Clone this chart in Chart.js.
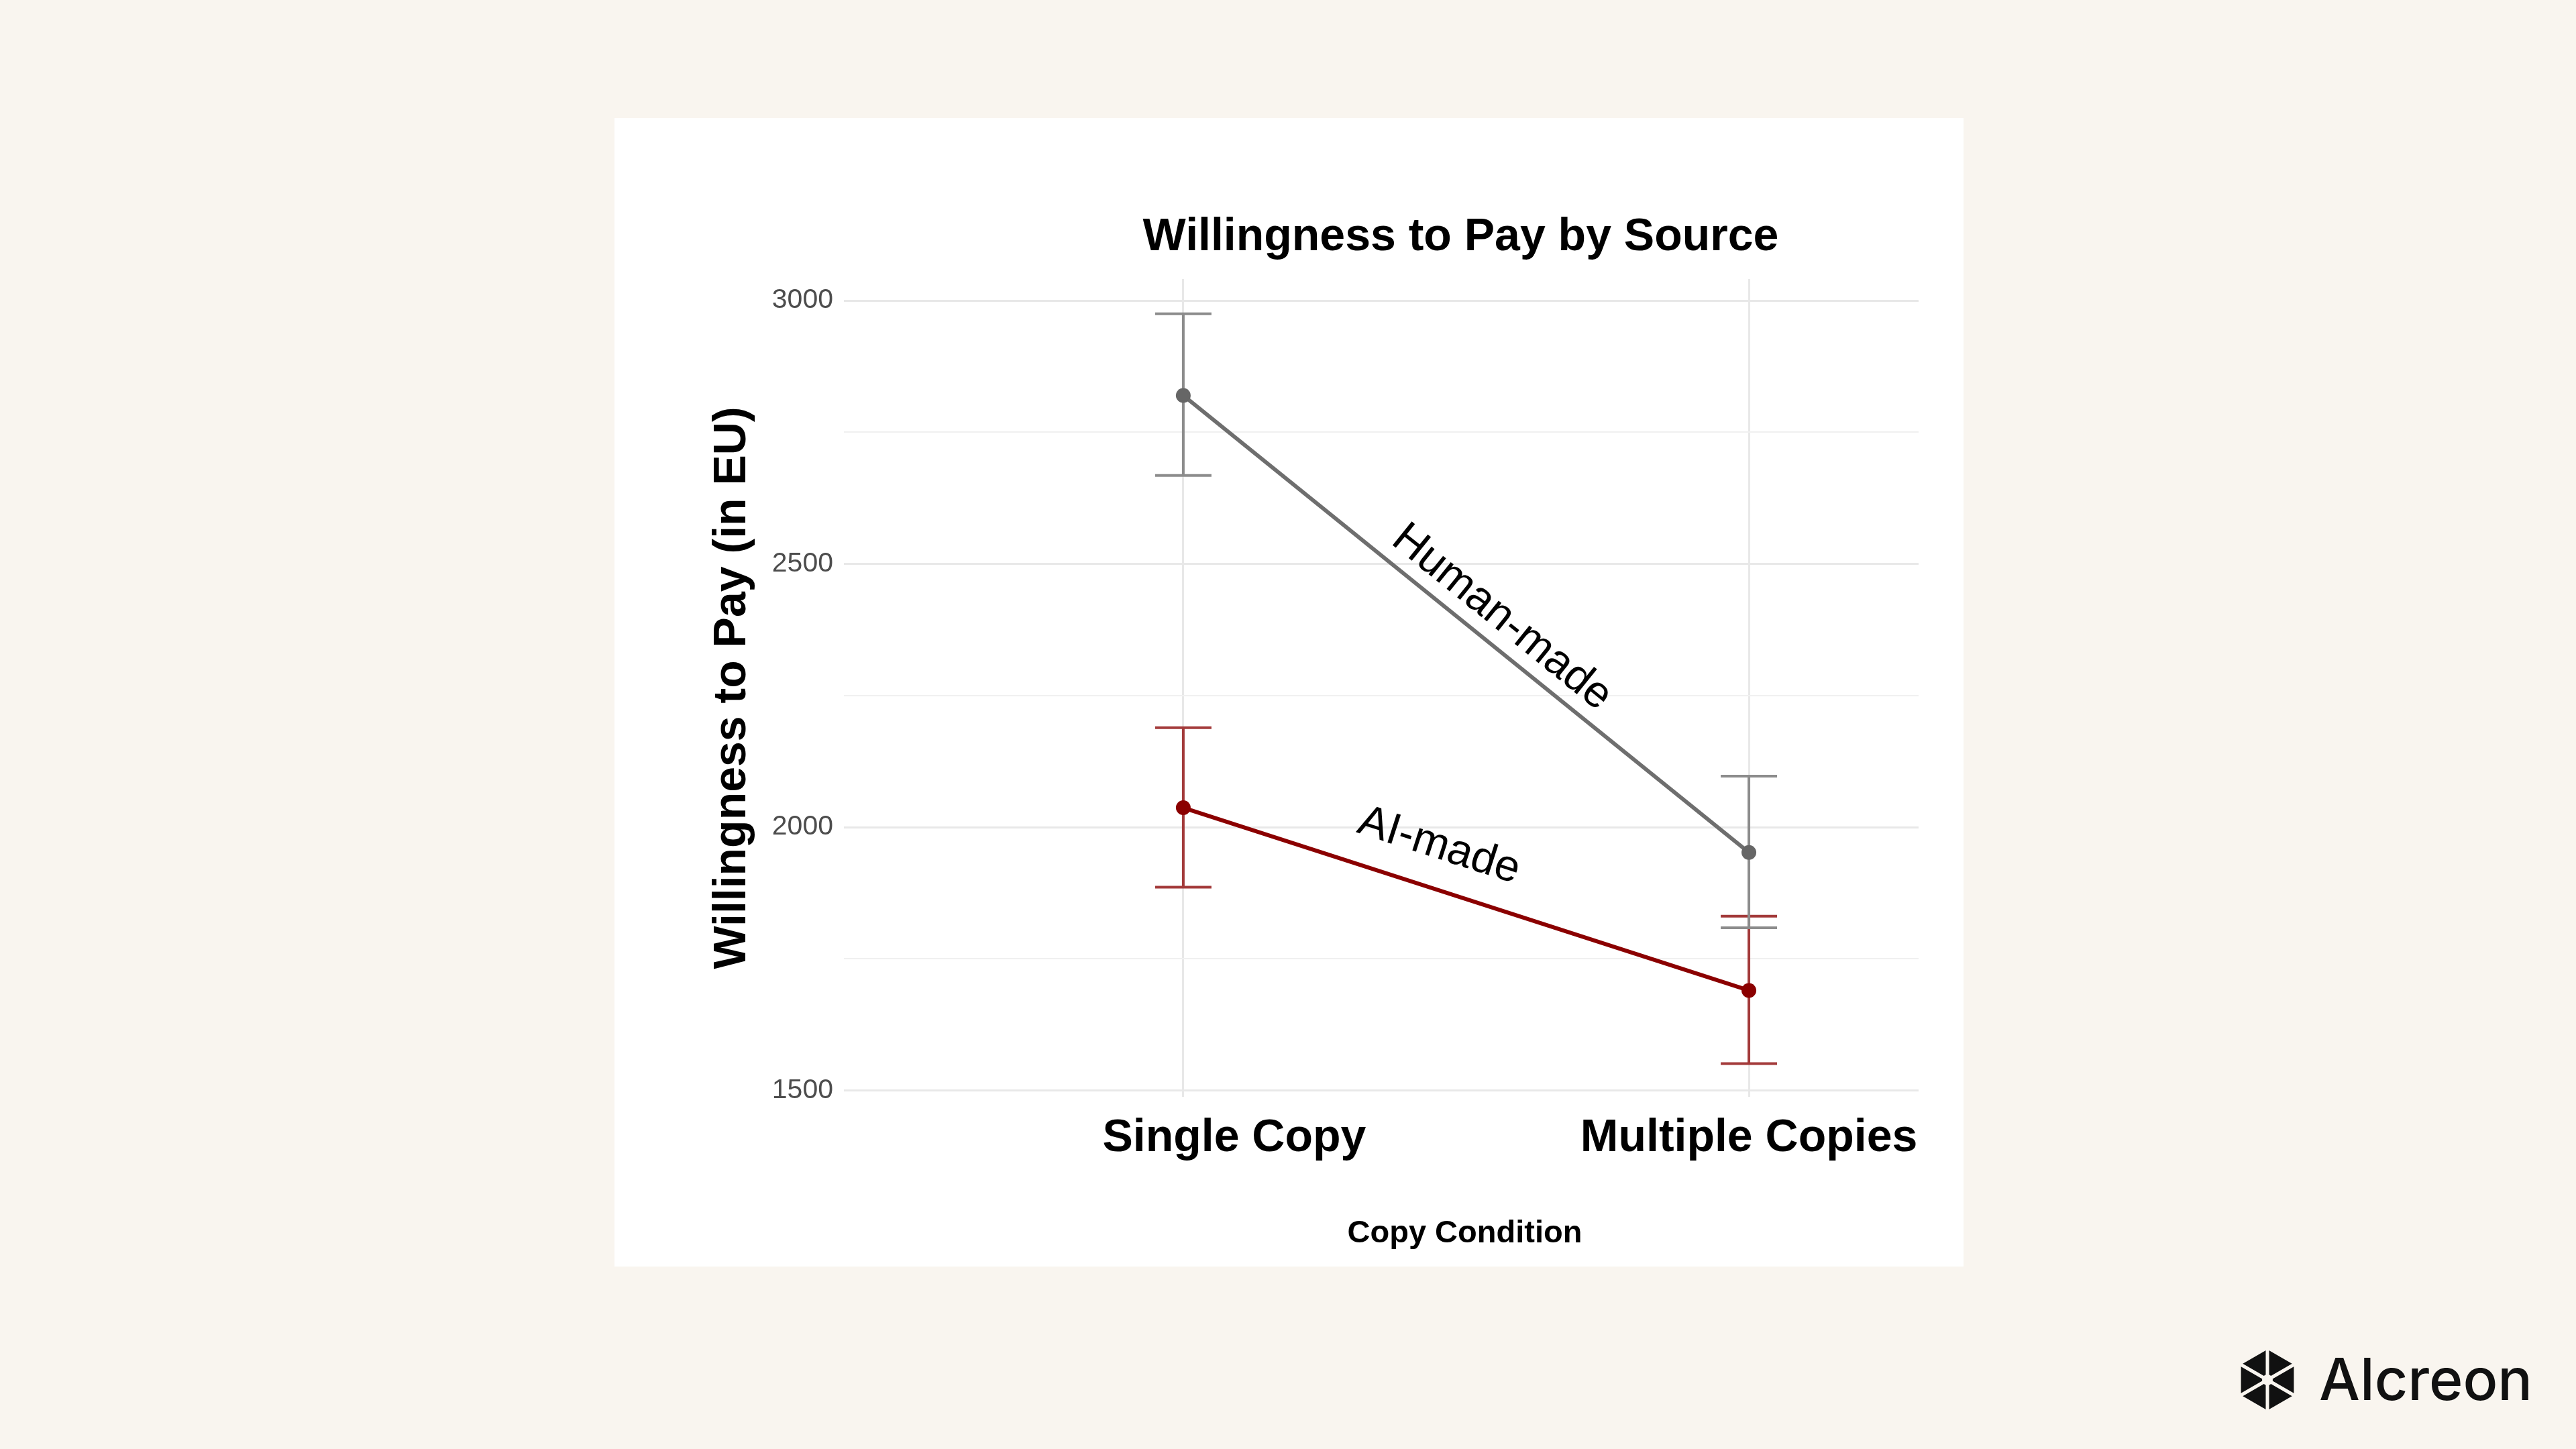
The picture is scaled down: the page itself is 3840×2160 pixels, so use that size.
<!DOCTYPE html>
<html>
<head>
<meta charset="utf-8">
<script src="https://cdn.jsdelivr.net/npm/chart.js@4.4.1/dist/chart.umd.min.js"></script>
<style>
  html, body { margin: 0; padding: 0; width: 3840px; height: 2160px; overflow: hidden; background: #f9f5ef; }
  #card { position: absolute; left: 916px; top: 176px; width: 2011px; height: 1712px; background: #ffffff; }
  #chart { position: absolute; left: 0; top: 0; }
  #logo { position: absolute; left: 3300px; top: 1980px; }
</style>
</head>
<body>
<div id="card"></div>
<canvas id="chart" width="3840" height="2160"></canvas>

<svg id="logo" width="540" height="180" viewBox="0 0 540 180">
  <g transform="translate(80 77)">
    <polygon points="0,-42 36.4,-21 36.4,21 0,42 -36.4,21 -36.4,-21" fill="#111" stroke="#111" stroke-width="6" stroke-linejoin="round"/>
    <g stroke="#f9f5ef" stroke-width="5" stroke-linecap="round">
      <line x1="0" y1="0" x2="0" y2="-52"/>
      <line x1="0" y1="0" x2="45" y2="-26"/>
      <line x1="0" y1="0" x2="45" y2="26"/>
      <line x1="0" y1="0" x2="0" y2="52"/>
      <line x1="0" y1="0" x2="-45" y2="26"/>
      <line x1="0" y1="0" x2="-45" y2="-26"/>
    </g>
    <circle cx="0" cy="0" r="8" fill="#f9f5ef"/>
  </g>
  <text x="157" y="107" font-family="Inter, 'Noto Sans', sans-serif" font-size="86" font-weight="500" fill="#111">Alcreon</text>
</svg>

<script>
// --- Data ---
const categories = ['Single Copy', 'Multiple Copies'];
const humanMean = [2820, 1952];
const humanLow = [2668, 1809];
const humanHigh = [2975, 2097];
const aiMean = [2037, 1690];
const aiLow = [1886, 1551];
const aiHigh = [2189, 1831];
const yTicks = [1500, 1750, 2000, 2250, 2500, 2750, 3000];

// --- Styles ---
const FONT = '"Liberation Sans", Arial, Helvetica, sans-serif';
const HUMAN_LINE = '#6e6e6e';
const HUMAN_BAR = '#8c8c8c';
const AI_LINE = '#8b0000';
const AI_BAR = '#a33a3a';
const GRID_MAJOR = '#e8e8e8';
const GRID_MINOR = '#f0f0f0';

Chart.defaults.font.family = FONT;

function toPoints(vals) {
  return vals.map((v, i) => ({ x: i, y: v }));
}

// error bars drawn under the lines
const errorBars = {
  id: 'errorBars',
  beforeDatasetsDraw(chart) {
    const { ctx, scales: { x, y } } = chart;
    const series = [
      { low: aiLow, high: aiHigh, color: AI_BAR },
      { low: humanLow, high: humanHigh, color: HUMAN_BAR }
    ];
    const cap = 42;
    ctx.save();
    series.forEach(s => {
      ctx.strokeStyle = s.color;
      ctx.lineWidth = 4;
      s.low.forEach((lo, i) => {
        const px = x.getPixelForValue(i);
        const yl = y.getPixelForValue(lo);
        const yh = y.getPixelForValue(s.high[i]);
        ctx.beginPath();
        ctx.moveTo(px, yl); ctx.lineTo(px, yh);
        ctx.moveTo(px - cap, yl); ctx.lineTo(px + cap, yl);
        ctx.moveTo(px - cap, yh); ctx.lineTo(px + cap, yh);
        ctx.stroke();
      });
    });
    ctx.restore();
  }
};

// title, category labels, x title and the in-line labels
const textLayer = {
  id: 'textLayer',
  afterDraw(chart) {
    const { ctx, chartArea, scales: { x, y } } = chart;
    const mid = x.getPixelForValue((categories.length - 1) / 2);
    ctx.save();
    ctx.fillStyle = '#000';
    ctx.textBaseline = 'alphabetic';
    ctx.textAlign = 'center';

    ctx.font = 'bold 68px ' + FONT;
    ctx.fillText('Willingness to Pay by Source', mid - 8, chartArea.top - 43);

    const labelShift = [76, 0];
    categories.forEach((c, i) => {
      ctx.fillText(c, x.getPixelForValue(i) + labelShift[i], chartArea.bottom + 81);
    });

    ctx.font = 'bold 47px ' + FONT;
    ctx.fillText('Copy Condition', mid - 2, chartArea.bottom + 217);

    const lineLabels = [
      { text: 'Human-made', vals: humanMean, at: [0.563, 2398], size: 66 },
      { text: 'AI-made', vals: aiMean, at: [0.452, 1964], size: 66 }
    ];
    ctx.textBaseline = 'middle';
    lineLabels.forEach(l => {
      const dx = x.getPixelForValue(1) - x.getPixelForValue(0);
      const dy = y.getPixelForValue(l.vals[1]) - y.getPixelForValue(l.vals[0]);
      ctx.save();
      ctx.translate(x.getPixelForValue(l.at[0]), y.getPixelForValue(l.at[1]));
      ctx.rotate(Math.atan2(dy, dx));
      ctx.font = l.size + 'px ' + FONT;
      ctx.fillText(l.text, 0, 0);
      ctx.restore();
    });
    ctx.restore();
  }
};

new Chart(document.getElementById('chart'), {
  type: 'line',
  data: {
    datasets: [
      {
        label: 'Human-made',
        data: toPoints(humanMean),
        borderColor: HUMAN_LINE,
        backgroundColor: HUMAN_LINE,
        borderWidth: 6,
        pointRadius: 11,
        pointBorderWidth: 0,
        pointBackgroundColor: '#666666'
      },
      {
        label: 'AI-made',
        data: toPoints(aiMean),
        borderColor: AI_LINE,
        backgroundColor: AI_LINE,
        borderWidth: 6,
        pointRadius: 11,
        pointBorderWidth: 0,
        pointBackgroundColor: AI_LINE
      }
    ]
  },
  options: {
    responsive: false,
    animation: false,
    devicePixelRatio: 1,
    layout: { padding: { left: 1000, top: 416, right: 980, bottom: 525 } },
    plugins: {
      legend: { display: false },
      tooltip: { enabled: false }
    },
    scales: {
      x: {
        type: 'linear',
        min: -0.6,
        max: 1.3,
        afterBuildTicks: s => { s.ticks = categories.map((c, i) => ({ value: i })); },
        afterFit: s => { s.height = 0; },
        ticks: { display: false },
        grid: { color: GRID_MAJOR, lineWidth: 3, drawTicks: false },
        border: { display: false }
      },
      y: {
        min: 1488,
        max: 3041,
        afterBuildTicks: s => { s.ticks = yTicks.map(v => ({ value: v })); },
        afterFit: s => { s.width = 258; },
        ticks: {
          callback: v => (v % 500 === 0 ? String(v) : ''),
          font: { size: 41 },
          color: '#4d4d4d',
          padding: 16
        },
        grid: {
          color: c => (c.tick && c.tick.value % 500 === 0 ? GRID_MAJOR : GRID_MINOR),
          lineWidth: c => (c.tick && c.tick.value % 500 === 0 ? 3 : 2),
          drawTicks: false
        },
        border: { display: false },
        title: {
          display: true,
          text: 'Willingness to Pay (in EU)',
          color: '#000',
          font: { size: 68, weight: 'bold' },
          padding: { top: 51, bottom: 0 }
        }
      }
    }
  },
  plugins: [errorBars, textLayer]
});
</script>
</body>
</html>
